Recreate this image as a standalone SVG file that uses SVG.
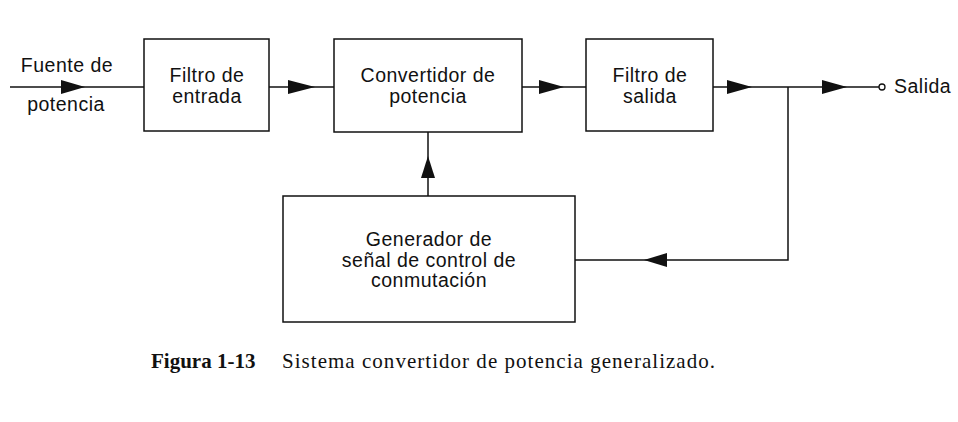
<svg xmlns="http://www.w3.org/2000/svg" width="958" height="422" viewBox="0 0 958 422">
<defs>
<style>
.box{fill:#fff;stroke:#111;stroke-width:1.5}
.ln{fill:none;stroke:#111;stroke-width:1.5}
.t{font-family:"Liberation Sans",Arial,sans-serif;font-size:19.5px;fill:#111;text-anchor:middle;letter-spacing:0.5px}
.cap{font-family:"Liberation Serif","Times New Roman",serif;font-size:21px;fill:#111}
.ah{fill:#111}
</style>
</defs>
<g id="connectors">
<line class="ln" x1="10" y1="87" x2="144" y2="87"/>
<polygon class="ah" points="85,87 61,80 61,94"/>
<line class="ln" x1="269" y1="87" x2="334" y2="87"/>
<polygon class="ah" points="315,87 288,80 288,94"/>
<line class="ln" x1="522" y1="87" x2="586" y2="87"/>
<polygon class="ah" points="564,87 539,80 539,94"/>
<line class="ln" x1="713" y1="87" x2="879" y2="87"/>
<polygon class="ah" points="752,87 727,80 727,94"/>
<polygon class="ah" points="847,87 822,80 822,94"/>
<circle cx="882" cy="87" r="3" fill="#fff" stroke="#111" stroke-width="1.3"/>
<polyline class="ln" points="788,87 788,260 575,260"/>
<polygon class="ah" points="644,260 667,253 667,267"/>
<line class="ln" x1="428" y1="196" x2="428" y2="132"/>
<polygon class="ah" points="428,156 421,178 435,178"/>
</g>
<g id="fuente">
<text class="t" x="67" y="72">Fuente de</text>
<text class="t" x="66" y="111">potencia</text>
</g>
<g id="filtro-entrada">
<rect class="box" x="144" y="39" width="125" height="92"/>
<text class="t" x="207" y="82">Filtro de</text>
<text class="t" x="207" y="103">entrada</text>
</g>
<g id="convertidor">
<rect class="box" x="334" y="39" width="188" height="93"/>
<text class="t" x="428" y="82">Convertidor de</text>
<text class="t" x="428" y="103">potencia</text>
</g>
<g id="filtro-salida">
<rect class="box" x="586" y="39" width="127" height="92"/>
<text class="t" x="650" y="82">Filtro de</text>
<text class="t" x="650" y="103">salida</text>
</g>
<g id="salida">
<text class="t" x="894" y="93" style="text-anchor:start">Salida</text>
</g>
<g id="generador">
<rect class="box" x="283" y="196" width="292" height="126"/>
<text class="t" x="429" y="246">Generador de</text>
<text class="t" x="429" y="267">señal de control de</text>
<text class="t" x="429" y="287">conmutación</text>
</g>
<g id="caption">
<text class="cap" x="151" y="368" font-weight="bold">Figura 1-13</text>
<text class="cap" x="282" y="368" textLength="433" lengthAdjust="spacing">Sistema convertidor de potencia generalizado.</text>
</g>
</svg>
